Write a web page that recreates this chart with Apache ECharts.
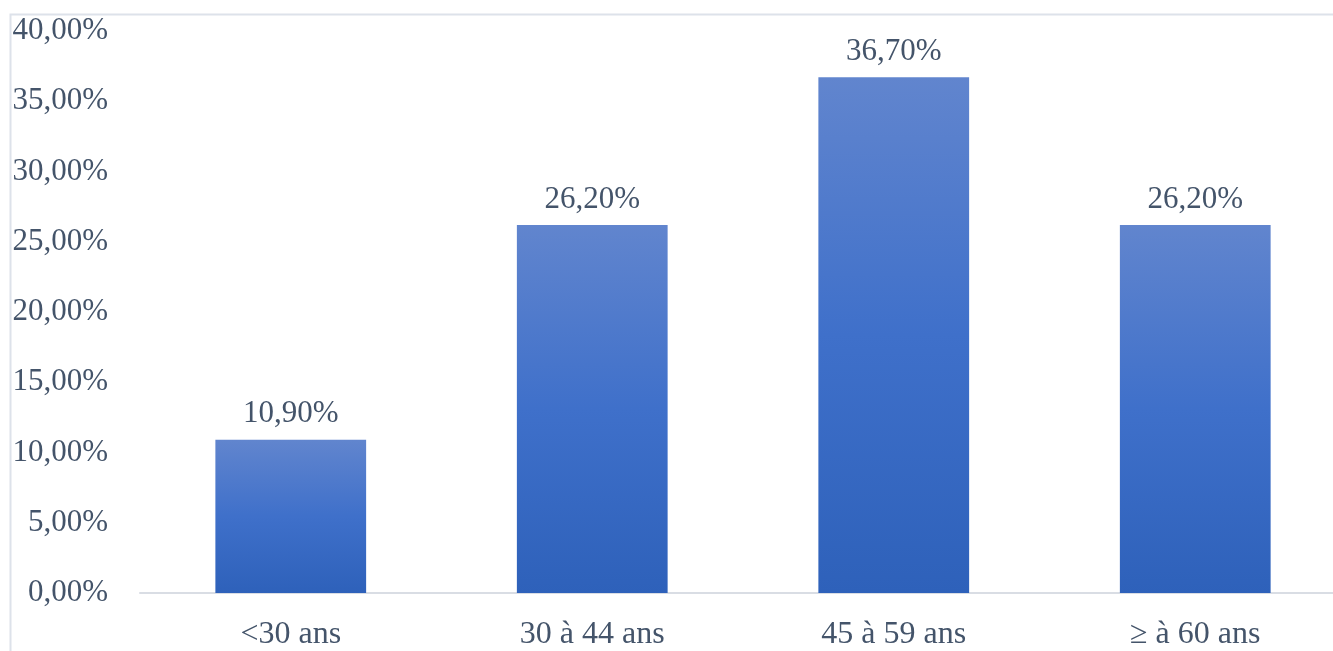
<!DOCTYPE html>
<html>
<head>
<meta charset="utf-8">
<script src="https://cdn.jsdelivr.net/npm/echarts@6/dist/echarts.min.js"></script>
<style>
  html, body { margin: 0; padding: 0; background: #fff; overflow: hidden; }
  #chart { width: 1346px; height: 651px; }
</style>
</head>
<body>
<div id="chart"></div>
<script>
// Chart data
const categories = ["<30 ans", "30 à 44 ans", "45 à 59 ans", "≥ à 60 ans"];
const shares = [10.9, 26.2, 36.7, 26.2];
const yTicks = [0, 5, 10, 15, 20, 25, 30, 35, 40];

const textColor = "#44546a";
const fontFamily = "'Liberation Serif', 'Times New Roman', serif";

function pct(v) {
  return v.toFixed(2).replace(".", ",") + "%";
}

const chart = echarts.init(document.getElementById("chart"));

const option = {
  backgroundColor: "#ffffff",
  animation: false,
  graphic: [
    {
      // light frame of the chart area (top and left edges)
      type: "rect",
      shape: { x: 10.5, y: 14.5, width: 1400, height: 700 },
      style: { fill: "none", stroke: "#dde2ea", lineWidth: 2 },
      silent: true,
    },
  ],
  grid: {
    top: 31,
    bottom: 54,
    left: 140,
    right: 0,
  },
  xAxis: {
    type: "category",
    data: categories,
    axisLine: { lineStyle: { color: "#d9dde4", width: 2 } },
    axisTick: { show: false },
    axisLabel: {
      color: textColor,
      fontFamily: fontFamily,
      fontSize: 32,
      margin: 26,
    },
  },
  yAxis: {
    type: "value",
    min: yTicks[0],
    max: yTicks[yTicks.length - 1],
    interval: 5,
    axisLine: { show: false },
    axisTick: { show: false },
    splitLine: { show: false },
    axisLabel: {
      color: textColor,
      fontFamily: fontFamily,
      fontSize: 31,
      margin: 32,
      formatter: (v) => pct(v),
    },
  },
  series: [
    {
      type: "bar",
      data: shares,
      barWidth: "50%",
      itemStyle: {
        color: new echarts.graphic.LinearGradient(0, 0, 0, 1, [
          { offset: 0, color: "#6185ce" },
          { offset: 0.5, color: "#3f70ca" },
          { offset: 1, color: "#2e61ba" },
        ]),
      },
      label: {
        show: true,
        position: "top",
        distance: 10,
        color: textColor,
        fontFamily: fontFamily,
        fontSize: 31,
        formatter: (p) => pct(p.value),
      },
    },
  ],
};

chart.setOption(option);
</script>
</body>
</html>
